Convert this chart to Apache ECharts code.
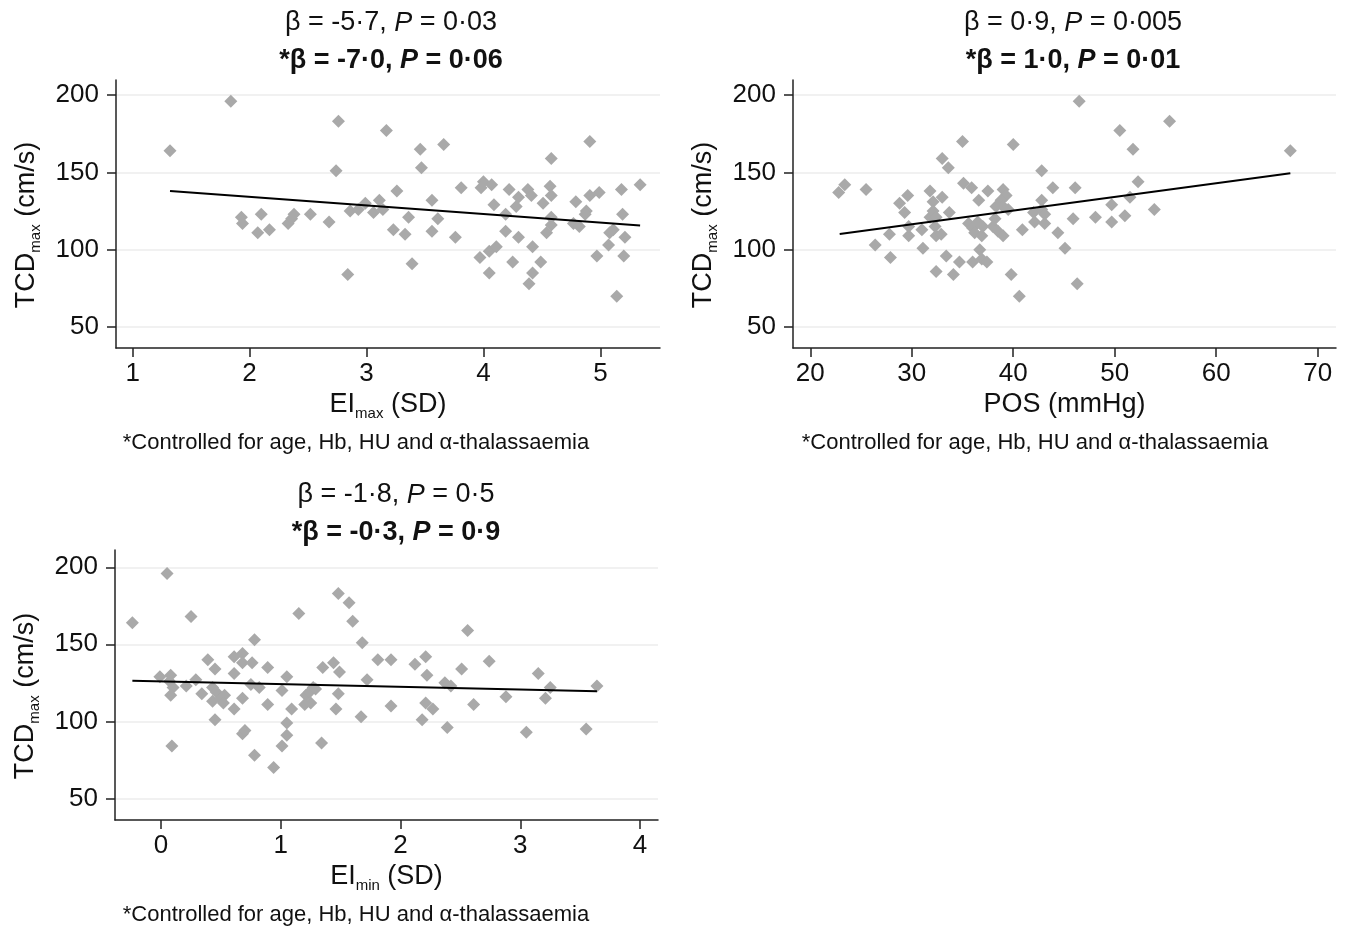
<!DOCTYPE html>
<html><head><meta charset="utf-8">
<script src="https://cdn.jsdelivr.net/npm/echarts@6/dist/echarts.min.js"></script>
<style>html,body{margin:0;padding:0;background:#fff}#c{width:1350px;height:927px}</style>
</head><body><div id="c"></div>
<script>
// Panel 1: EI max (SD) vs TCD max
const eiMaxPoints = [[1.32,164],[1.84,196],[1.93,121],[1.94,117],[2.10,123],[2.07,111],[2.17,113],[2.33,117],[2.36,120],[2.38,123],[2.52,123],[2.68,118],[2.76,183],[2.74,151],[2.84,84],[2.86,125],[2.93,126],[2.99,130],[3.06,124],[3.11,132],[3.14,126],[3.17,177],[3.26,138],[3.36,121],[3.23,113],[3.33,110],[3.39,91],[3.46,165],[3.47,153],[3.66,168],[3.56,132],[3.61,120],[3.56,112],[3.76,108],[3.81,140],[3.97,95],[4.00,144],[3.98,140],[4.07,142],[4.09,129],[4.05,85],[4.05,99],[4.11,102],[4.19,123],[4.22,139],[4.19,112],[4.25,92],[4.30,134],[4.28,128],[4.30,108],[4.38,139],[4.41,135],[4.42,102],[4.42,85],[4.39,78],[4.49,92],[4.51,130],[4.58,159],[4.57,141],[4.58,135],[4.58,121],[4.58,116],[4.54,111],[4.79,131],[4.77,117],[4.82,115],[4.91,170],[4.88,125],[4.87,123],[4.91,135],[4.99,137],[4.97,96],[5.08,111],[5.07,103],[5.11,113],[5.14,70],[5.18,139],[5.19,123],[5.21,108],[5.20,96],[5.34,142]];
const eiMaxFit = [[1.32,138],[5.34,115.7]];

// Panel 2: POS (mmHg) vs TCD max
const posPoints = [[22.8,137],[23.4,142],[25.5,139],[26.4,103],[27.8,110],[27.9,95],[28.8,130],[29.6,135],[29.3,124],[29.7,109],[29.7,115],[31.0,113],[31.1,101],[31.8,138],[32.1,131],[31.8,121],[32.1,125],[32.4,121],[32.3,115],[32.4,109],[32.9,110],[32.4,86],[33.0,159],[33.6,153],[33.0,134],[33.7,124],[33.4,96],[34.1,84],[34.7,92],[35.0,170],[35.1,143],[35.9,140],[36.6,132],[37.5,138],[35.6,117],[36.0,114],[36.2,111],[36.5,118],[36.9,109],[37.0,115],[36.7,100],[36.0,92],[36.9,94],[37.4,92],[39.0,139],[39.3,135],[38.8,132],[39.0,128],[39.5,126],[38.3,128],[38.0,115],[38.5,112],[39.0,109],[38.2,120],[40.0,168],[40.9,113],[39.8,84],[40.6,70],[42.8,151],[42.8,132],[43.9,140],[42.0,124],[42.8,126],[43.1,123],[42.1,118],[43.1,117],[44.4,111],[45.1,101],[46.5,196],[46.1,140],[45.9,120],[46.3,78],[48.1,121],[49.7,129],[49.7,118],[50.5,177],[51.0,122],[51.5,134],[51.8,165],[52.3,144],[53.9,126],[55.4,183],[67.3,164]];
const posFit = [[22.9,110.1],[67.3,149.5]];

// Panel 3: EI min (SD) vs TCD max
const eiMinPoints = [[-0.24,164],[0.05,196],[-0.01,129],[0.08,130],[0.07,126],[0.10,122],[0.08,117],[0.09,84],[0.21,123],[0.25,168],[0.29,127],[0.34,118],[0.39,140],[0.45,134],[0.43,122],[0.46,119],[0.43,113],[0.50,115],[0.53,117],[0.52,112],[0.45,101],[0.61,142],[0.68,144],[0.68,138],[0.76,138],[0.61,131],[0.61,108],[0.68,115],[0.68,92],[0.70,94],[0.78,153],[0.75,124],[0.82,122],[0.78,78],[0.89,135],[0.89,111],[0.94,70],[1.01,120],[1.05,129],[1.09,108],[1.05,99],[1.05,91],[1.01,84],[1.15,170],[1.21,117],[1.24,119],[1.27,122],[1.29,121],[1.20,111],[1.25,112],[1.34,86],[1.35,135],[1.44,138],[1.49,132],[1.48,118],[1.46,108],[1.48,183],[1.57,177],[1.60,165],[1.68,151],[1.72,127],[1.67,103],[1.81,140],[1.92,140],[1.92,110],[2.12,137],[2.21,142],[2.22,130],[2.21,112],[2.27,108],[2.18,101],[2.37,125],[2.42,123],[2.39,96],[2.51,134],[2.56,159],[2.61,111],[2.74,139],[2.88,116],[3.05,93],[3.15,131],[3.25,122],[3.21,115],[3.55,95],[3.64,123]];
const eiMinFit = [[-0.24,126.4],[3.64,119.5]];

// Tick labels
const yTicks = [50,100,150,200];
const eiMaxTicks = [1,2,3,4,5];
const posTicks = [20,30,40,50,60,70];
const eiMinTicks = [0,1,2,3,4];

// Annotation texts
const titles = [
  ['β = -5·7, ', '= 0·03', '*β = -7·0, ', '= 0·06'],
  ['β = 0·9, ', '= 0·005', '*β = 1·0, ', '= 0·01'],
  ['β = -1·8, ', '= 0·5', '*β = -0·3, ', '= 0·9']
];
const footnote = '*Controlled for age, Hb, HU and α-thalassaemia';

const FONT = '"Liberation Sans", Arial, Helvetica, sans-serif';
const GRAY = '#a9a9a9';

const gridDefs = [
  {left:116, top:80, width:544, height:268, xmin:0.858, xmax:5.51, ymin:36.5, ymax:209.7, ticks:eiMaxTicks, xname:'{a|EI}{s|max}{a| (SD)}'},
  {left:793, top:80, width:543, height:268, xmin:18.3, xmax:71.8, ymin:36.5, ymax:209.7, ticks:posTicks, xname:'{a|POS (mmHg)}'},
  {left:115, top:550, width:543, height:270, xmin:-0.385, xmax:4.15, ymin:36.0, ymax:211.2, ticks:eiMinTicks, xname:'{a|EI}{s|min}{a| (SD)}'}
];
const titleCenters = [[386, -1], [1068, -1], [391, 471]];
const footCenters = [[351, 427], [1030, 427], [351, 899]];

const rich = {
  a: {fontFamily: FONT, fontSize: 27, color: '#111', lineHeight: 32},
  s: {fontFamily: FONT, fontSize: 15, color: '#111', lineHeight: 13, verticalAlign: 'bottom'}
};

const axisLineStyle = {color: '#222', width: 1.5};

const option = {
  animation: false,
  backgroundColor: '#fff',
  title: [],
  grid: gridDefs.map(g => ({left: g.left, top: g.top, width: g.width, height: g.height, containLabel: false})),
  xAxis: gridDefs.map((g, i) => ({
    type: 'value', gridIndex: i, min: g.xmin, max: g.xmax,
    name: g.xname, nameLocation: 'middle', nameGap: 41,
    nameTextStyle: {rich: rich},
    axisLine: {show: true, onZero: false, lineStyle: axisLineStyle},
    axisTick: {show: true, length: 9, lineStyle: axisLineStyle, customValues: g.ticks},
    axisLabel: {fontFamily: FONT, fontSize: 26, color: '#111', margin: 13, customValues: g.ticks},
    splitLine: {show: false}
  })),
  yAxis: gridDefs.map((g, i) => ({
    type: 'value', gridIndex: i, min: g.ymin, max: g.ymax,
    name: '{a|TCD}{s|max}{a| (cm/s)}', nameLocation: 'middle', nameGap: 73, nameRotate: 90,
    nameTextStyle: {rich: rich, padding: [0, 22, 0, 0]},
    axisLine: {show: true, onZero: false, lineStyle: axisLineStyle},
    axisTick: {show: true, length: 9, lineStyle: axisLineStyle, customValues: yTicks},
    axisLabel: {fontFamily: FONT, fontSize: 26, color: '#111', margin: 17, customValues: yTicks},
    splitLine: {show: false}
  })),
  series: []
};

const pointSets = [eiMaxPoints, posPoints, eiMinPoints];
const fitSets = [eiMaxFit, posFit, eiMinFit];
pointSets.forEach((pts, i) => {
  option.series.push({
    type: 'scatter', xAxisIndex: i, yAxisIndex: i, data: pts,
    symbol: 'diamond', symbolSize: 13, itemStyle: {color: GRAY, opacity: 1},
    markLine: {
      silent: true, symbol: 'none', label: {show: false}, z: 0,
      lineStyle: {color: '#ececec', width: 1.5, type: 'solid'},
      data: yTicks.map(v => ({yAxis: v}))
    },
    z: 2
  });
  option.series.push({
    type: 'line', xAxisIndex: i, yAxisIndex: i, data: fitSets[i],
    symbol: 'none', lineStyle: {color: '#000', width: 2}, z: 3
  });
});

const TS = 27;
titles.forEach((t, i) => {
  const [cx, cy] = titleCenters[i];
  option.title.push({
    left: cx, top: cy, textAlign: 'center',
    text: '{n|' + t[0] + '}{i|P}{n| ' + t[1] + '}\n{b|' + t[2] + '}{bi|P}{b| ' + t[3] + '}',
    textStyle: {
      fontWeight: 'normal',
      rich: {
        n: {fontFamily: FONT, fontSize: TS, color: '#111', fontWeight: 'normal', lineHeight: 38},
        i: {fontFamily: FONT, fontSize: TS, color: '#111', fontWeight: 'normal', fontStyle: 'italic', lineHeight: 38},
        b: {fontFamily: FONT, fontSize: TS, color: '#111', fontWeight: 'bold', lineHeight: 38},
        bi: {fontFamily: FONT, fontSize: TS, color: '#111', fontWeight: 'bold', fontStyle: 'italic', lineHeight: 38}
      }
    }
  });
});
footCenters.forEach(([cx, cy]) => {
  option.title.push({
    left: cx, top: cy, textAlign: 'center', text: footnote,
    textStyle: {fontFamily: FONT, fontSize: 22, fontWeight: 'normal', color: '#111'}
  });
});

const chart = echarts.init(document.getElementById('c'));
chart.setOption(option);
</script>
</body></html>
